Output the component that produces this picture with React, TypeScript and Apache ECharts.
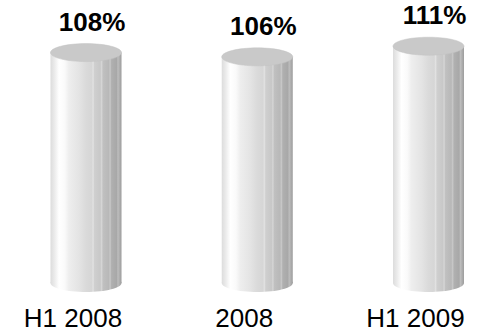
import React, { useEffect, useRef } from "react";
import * as echarts from "echarts";

const categories = ["H1 2008", "2008", "H1 2009"];
const values = [108, 106, 111];
const valueLabels = ["108%", "106%", "111%"];

const FONT = "'Liberation Sans', Arial, sans-serif";

// striped grey shading across the cylinder body
const bodyStops = [
  { offset: 0, color: "#dcdcdc" },
  { offset: 0.06, color: "#ececec" },
  { offset: 0.12, color: "#ffffff" },
  { offset: 0.2, color: "#fafafa" },
  { offset: 0.26, color: "#eeeeee" },
  { offset: 0.4, color: "#e4e4e4" },
  { offset: 0.5, color: "#dadada" },
  { offset: 0.58, color: "#d6d6d6" },
  { offset: 0.6, color: "#e2e2e2" },
  { offset: 0.62, color: "#cfcfcf" },
  { offset: 0.7, color: "#c8c8c8" },
  { offset: 0.72, color: "#d6d6d6" },
  { offset: 0.74, color: "#c0c0c0" },
  { offset: 0.82, color: "#b8b8b8" },
  { offset: 0.84, color: "#c8c8c8" },
  { offset: 0.86, color: "#b0b0b0" },
  { offset: 0.93, color: "#a8a8a8" },
  { offset: 0.95, color: "#bdbdbd" },
  { offset: 1, color: "#9c9c9c" },
];

export default function App() {
  const ref = useRef<HTMLDivElement>(null);

  useEffect(() => {
    if (!ref.current) return;
    const chart = echarts.init(ref.current, null, { renderer: "svg" });

    const renderItem = (params: any, api: any) => {
      const i = api.value(0);
      const v = api.value(1);
      const top = api.coord([i, v]);
      const base = api.coord([i, 0]);
      const w = 71;
      const rx = w / 2;
      const ry = 9;
      const grad = () => new echarts.graphic.LinearGradient(0, 0, 1, 0, bodyStops);
      return {
        type: "group",
        children: [
          {
            type: "ellipse",
            shape: { cx: base[0], cy: base[1], rx, ry },
            style: { fill: grad() },
          },
          {
            type: "rect",
            shape: { x: top[0] - rx, y: top[1], width: w, height: base[1] - top[1] },
            style: { fill: grad() },
          },
          {
            type: "ellipse",
            shape: { cx: top[0], cy: top[1], rx, ry },
            style: { fill: "#c9c9c9", stroke: "#c2c2c2", lineWidth: 0.5 },
          },
          {
            type: "text",
            x: top[0] + 6,
            y: top[1] - 31,
            style: {
              text: valueLabels[params.dataIndex],
              fill: "#000",
              font: `bold 26px ${FONT}`,
              align: "center",
              verticalAlign: "middle",
            },
          },
        ],
      };
    };

    chart.setOption({
      animation: false,
      grid: { left: 86, right: 52.5, top: 27, bottom: 52 },
      xAxis: {
        type: "category",
        data: categories,
        boundaryGap: false,
        axisLine: { show: false },
        axisTick: { show: false },
        axisLabel: {
          margin: 22,
          color: "#000",
          fontSize: 26,
          fontFamily: FONT,
          padding: [0, 26, 0, 0],
        },
      },
      yAxis: {
        type: "value",
        min: 0,
        max: 120,
        show: false,
        splitLine: { show: false },
      },
      series: [
        {
          type: "custom",
          renderItem,
          data: values.map((v, i) => [i, v]),
          clip: false,
        },
      ],
    });

    return () => chart.dispose();
  }, []);

  return (
    <div
      ref={ref}
      style={{ position: "fixed", left: 0, top: 0, width: 481, height: 335, background: "#fff" }}
    />
  );
}
